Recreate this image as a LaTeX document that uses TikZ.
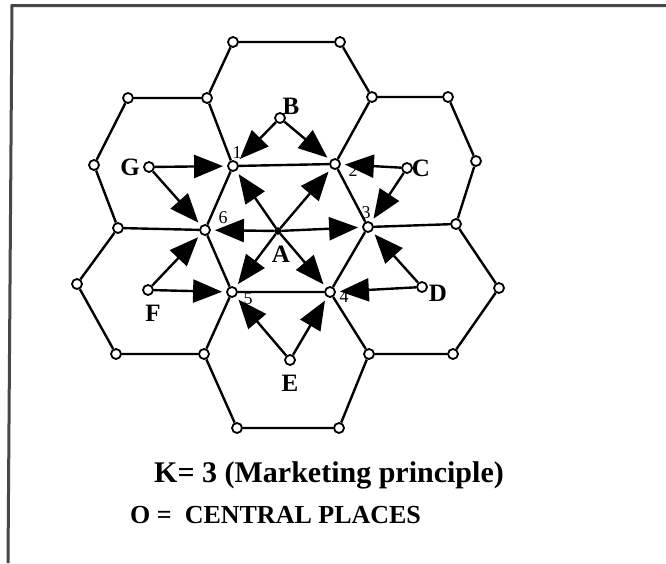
\documentclass[tikz,border=0pt]{standalone}
\usepackage{fontspec}
\setmainfont{Liberation Serif}
\usetikzlibrary{arrows.meta}
\tikzset{
  vtx/.style={circle,draw=black,fill=white,line width=1.8pt,inner sep=0pt,minimum size=10pt},
  ctr/.style={circle,draw=black,fill=black,inner sep=0pt,minimum size=7pt},
  edge/.style={line width=2.4pt,black},
  flow/.style={line width=2.4pt,black,-{Triangle[length=29pt,width=23pt]},shorten >=4pt},
  letter/.style={font=\fontsize{25}{25}\selectfont\bfseries,inner sep=0pt},
  num/.style={font=\fontsize{18}{18}\selectfont,inner sep=0pt},
  frameline/.style={line width=3pt,black!72}
}
\begin{document}
\begin{tikzpicture}[x=1pt,y=-1pt]
\useasboundingbox (0,0) rectangle (666,563);
\fill[white] (0,0) rectangle (666,563);
% frame
\coordinate (f1) at (666,5.5);
\coordinate (f2) at (12,5.5);
\coordinate (f3) at (8,563);
\draw[frameline] (f1) -- (f2) -- (f3);

% hexagon vertices
\node[vtx] (T1) at (233,42) {};
\node[vtx] (T2) at (340,42) {};
\node[vtx] (U1) at (207,98) {};
\node[vtx] (U2) at (372,97) {};
\node[vtx] (UL1) at (128,98) {};
\node[vtx] (UL2) at (94,165) {};
\node[vtx] (UR1) at (448,97) {};
\node[vtx] (UR2) at (476,161) {};
\node[vtx] (N1) at (233,166) {};
\node[vtx] (N2) at (335,164) {};
\node[vtx] (L1) at (118,228) {};
\node[vtx] (N6) at (205,230) {};
\node[ctr] (A) at (278,231) {};
\node[vtx] (N3) at (368,227) {};
\node[vtx] (R1) at (456,224) {};
\node[vtx] (LL1) at (77,284) {};
\node[vtx] (LL2) at (116,354) {};
\node[vtx] (LR1) at (499,288) {};
\node[vtx] (LR2) at (453,354) {};
\node[vtx] (N5) at (232,292) {};
\node[vtx] (N4) at (330,292) {};
\node[vtx] (B1) at (204,354) {};
\node[vtx] (B2) at (369,354) {};
\node[vtx] (BB1) at (237,428) {};
\node[vtx] (BB2) at (339,428) {};
% satellite places
\node[vtx] (sB) at (280,118) {};
\node[vtx] (sG) at (149,167) {};
\node[vtx] (sC) at (407,168) {};
\node[vtx] (sD) at (422,287) {};
\node[vtx] (sE) at (290,360) {};
\node[vtx] (sF) at (148,290) {};

% hexagon edges
\draw[edge] (T1) -- (T2) -- (U2) -- (N2) -- (N1) -- (U1) -- (T1);
\draw[edge] (U2) -- (UR1) -- (UR2) -- (R1) -- (N3) -- (N2);
\draw[edge] (R1) -- (LR1) -- (LR2) -- (B2) -- (N4) -- (N3);
\draw[edge] (B2) -- (BB2) -- (BB1) -- (B1) -- (N5) -- (N4);
\draw[edge] (B1) -- (LL2) -- (LL1) -- (L1) -- (N6) -- (N5);
\draw[edge] (L1) -- (UL2) -- (UL1) -- (U1);
\draw[edge] (N1) -- (N6);

% flows from A
\draw[flow] (A) -- (N1);
\draw[flow] (A) -- (N2);
\draw[flow] (A) -- (N3);
\draw[flow] (A) -- (N4);
\draw[flow] (A) -- (N5);
\draw[flow] (A) -- (N6);
% flows from satellites
\draw[flow] (sB) -- (N1);
\draw[flow] (sB) -- (N2);
\draw[flow] (sG) -- (N1);
\draw[flow] (sG) -- (N6);
\draw[flow] (sC) -- (N2);
\draw[flow] (sC) -- (N3);
\draw[flow] (sD) -- (N3);
\draw[flow] (sD) -- (N4);
\draw[flow] (sE) -- (N4);
\draw[flow] (sE) -- (N5);
\draw[flow] (sF) -- (N5);
\draw[flow] (sF) -- (N6);

% letter labels
\node[letter] (lB) at (291,106) {B};
\node[letter] (lG) at (130,167) {G};
\node[letter] (lC) at (421,168) {C};
\node[letter] (lD) at (438,293) {D};
\node[letter] (lE) at (290,383) {E};
\node[letter] (lF) at (153,313) {F};
\node[letter] (lA) at (281,254) {A};
% number labels
\node[num] (n1) at (237,153) {1};
\node[num] (n2) at (353,171) {2};
\node[num] (n3) at (366,213) {3};
\node[num] (n4) at (344,297) {4};
\node[num] (n5) at (248,299) {5};
\node[num] (n6) at (223,218) {6};

% captions
\node[font=\fontsize{30}{30}\selectfont\bfseries,inner sep=0pt,anchor=base] (cap1) at (329,482) {K= 3 (Marketing principle)};
\node[font=\fontsize{26}{26}\selectfont\bfseries,inner sep=0pt,anchor=base west] (cap2) at (130,523) {O =\ \ CENTRAL PLACES};
\end{tikzpicture}
\end{document}
